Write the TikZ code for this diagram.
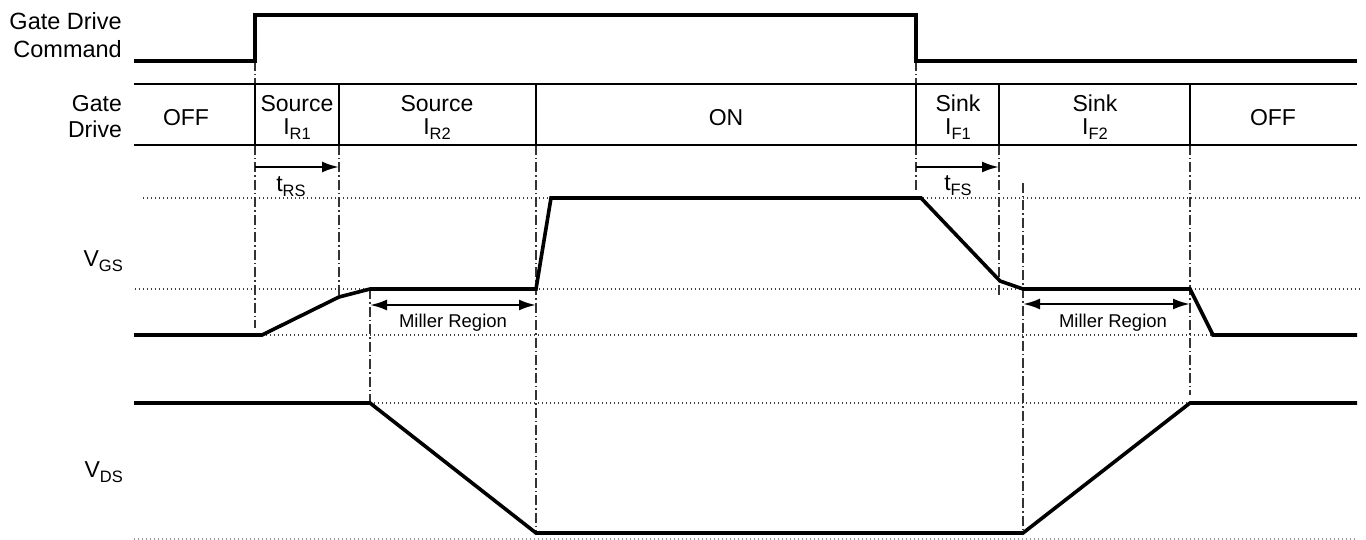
\documentclass[tikz,border=0pt]{standalone}
\usepackage{fontspec}
\setmainfont{Liberation Sans}
\usetikzlibrary{arrows.meta}
\newcommand\lsub[1]{\raisebox{-5pt}{\fontsize{16.5}{17}\selectfont #1}}
\begin{document}
\begin{tikzpicture}[x=1pt,y=-1pt,
  wave/.style={line width=3.6pt},
  gridline/.style={line width=2.4pt},
  guide/.style={line width=1.2pt, color=black!80, dash pattern=on 10pt off 3pt on 1.5pt off 3pt},
  refline/.style={line width=1.2pt, color=black!75, dash pattern=on 1.2pt off 2.8pt},
  dimarrow/.style={line width=2.4pt, -{Latex[length=17pt,width=11pt]}},
  dimboth/.style={line width=2.4pt, {Latex[length=17pt,width=11pt]}-{Latex[length=17pt,width=11pt]}},
  txt/.style={font=\fontsize{23}{23}\selectfont, inner sep=0pt},
  small/.style={font=\fontsize{18.5}{18.5}\selectfont, inner sep=0pt}]
\useasboundingbox (0,0) rectangle (1366,540);

% reference dotted lines
\draw[refline] (143,198) -- (1360,198);
\draw[refline] (135,289) -- (1360,289);
\draw[refline] (134,335) -- (1357,335);
\draw[refline] (134,403) -- (1357,403);
\draw[refline, color=black!40] (134,539) -- (1357,539);

% guide (dash-dot) lines
\draw[guide] (255,61) -- (255,84);
\draw[guide] (255,145) -- (255,328);
\draw[guide] (339,145) -- (339,297);
\draw[guide] (370,289) -- (370,403);
\draw[guide] (536,145) -- (536,533);
\draw[guide] (916,61) -- (916,84);
\draw[guide] (916,145) -- (916,193);
\draw[guide] (999,145) -- (999,297);
\draw[guide] (1023,183) -- (1023,533);
\draw[guide] (1190,145) -- (1190,395);

% waveforms
\draw[wave] (134,61) -- (255,61) -- (255,15) -- (916,15) -- (916,61) -- (1357,61);
\draw[wave] (134,335) -- (262,335) -- (339,297) -- (370,289) -- (536,289) -- (551,198) -- (921,198) -- (1000,281) -- (1023,289) -- (1190,289) -- (1213,335) -- (1357,335);
\draw[wave] (134,403) -- (370,403) -- (536,533) -- (1023,533) -- (1190,403) -- (1357,403);

% gate drive table
\draw[gridline] (134,84) -- (1357,84);
\draw[gridline] (134,145) -- (1357,145);
\foreach \x in {255,339,536,916,999,1190} \draw[gridline] (\x,84) -- (\x,145);

% labels
\node[txt, font=\fontsize{23.5}{28}\selectfont, align=right, anchor=east] (cmd) at (122,35) {Gate Drive\\Command};
\node[txt, font=\fontsize{23}{26}\selectfont, align=right, anchor=east] (gd) at (122,117) {Gate\\Drive};
\node[txt] (off1) at (186,118) {OFF};
\node[txt, align=center] (src1) at (297,117) {Source\\I\lsub{R1}};
\node[txt, align=center] (src2) at (437,117) {Source\\I\lsub{R2}};
\node[txt] (on) at (726,118) {ON};
\node[txt, align=center] (snk1) at (958,117) {Sink\\I\lsub{F1}};
\node[txt, align=center] (snk2) at (1095,117) {Sink\\I\lsub{F2}};
\node[txt] (off2) at (1273,118) {OFF};

\node[txt, anchor=base east] (vgs) at (123,267) {V\lsub{GS}};
\node[txt, anchor=base east] (vds) at (123,477) {V\lsub{DS}};

% timing arrows
\coordinate (rsa) at (255,167);
\coordinate (rsb) at (339,167);
\draw[dimarrow] (rsa) -- (rsb);
\node[txt, anchor=base] (trs) at (291,192) {t\lsub{RS}};
\coordinate (fsa) at (916,167);
\coordinate (fsb) at (999,167);
\draw[dimarrow] (fsa) -- (fsb);
\node[txt, anchor=base] (tfs) at (958,191) {t\lsub{FS}};

% Miller regions
\coordinate (m1a) at (370,305);
\coordinate (m1b) at (536,305);
\draw[dimboth] (m1a) -- (m1b);
\node[small] (mr1) at (453,323) {Miller Region};
\coordinate (m2a) at (1023,304);
\coordinate (m2b) at (1190,304);
\draw[dimboth] (m2a) -- (m2b);
\node[small] (mr2) at (1113,323) {Miller Region};
\end{tikzpicture}
\end{document}
